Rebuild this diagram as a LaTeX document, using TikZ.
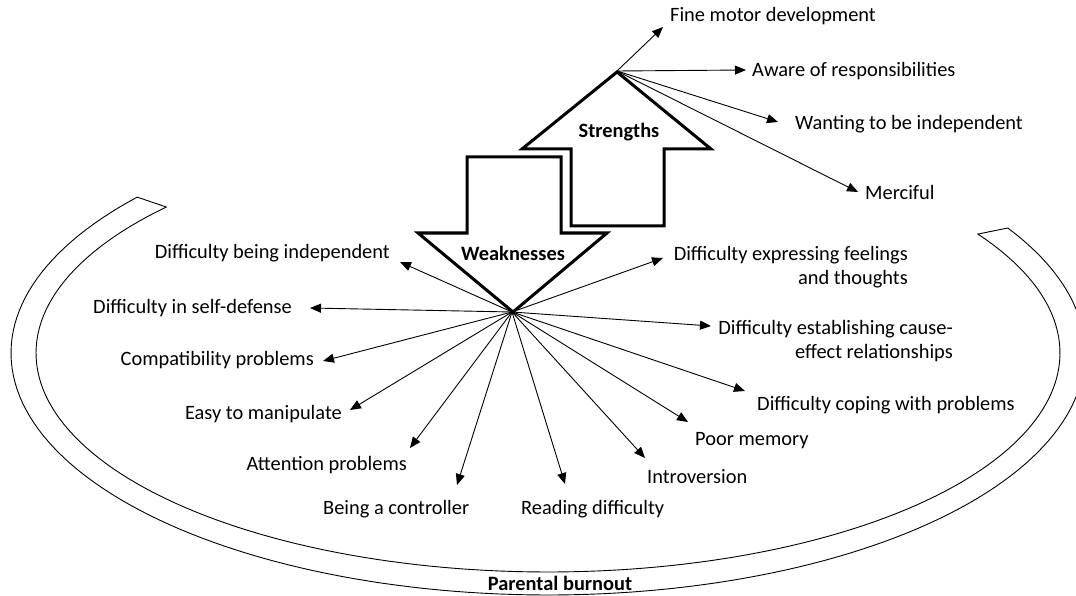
\documentclass[tikz,border=0pt]{standalone}
\usepackage{fontspec}
\setmainfont{Carlito}
\usetikzlibrary{arrows.meta}
\begin{document}
\begin{tikzpicture}[x=1pt,y=-1pt,
  lbl/.style={font=\fontsize{20.4}{24}\selectfont, inner sep=0pt, text height=13pt, text depth=0pt},
  lbltwo/.style={font=\fontsize{20.4}{24}\selectfont, inner sep=0pt, align=right},
  bold/.style={font=\fontsize{20.4}{24}\selectfont\bfseries, inner sep=0pt, text height=13pt, text depth=0pt},
  conn/.style={line width=0.9pt, -{Triangle[length=11pt,width=9pt]}},
  blockarrow/.style={line width=3pt, line join=miter, fill=white},
  band/.style={line width=0.9pt}]
\useasboundingbox (0,0) rectangle (1076,596);

% Parental burnout band
\draw[band] plot[domain=-31.1:220.1, samples=160] ({548+537*cos(\x)},{353+242*sin(\x)})
  -- plot[domain=221.8:-32.9, samples=160] ({548+512*cos(\x)},{353+219*sin(\x)}) -- cycle;
\node[bold] (pb) at (560,584) {Parental burnout};

% Block arrows
\draw[blockarrow] (467,157) -- (561,157) -- (561,233) -- (607,233) -- (513,312) -- (418,233) -- (467,233) -- cycle;
\draw[blockarrow] (617,72) -- (711,149) -- (664,149) -- (664,226) -- (571,226) -- (571,149) -- (522,149) -- cycle;
\node[bold] (str) at (619,131) {Strengths};
\node[bold] (weak) at (513,254) {Weaknesses};

\coordinate (st) at (617,71);
\coordinate (wt) at (512,312);

% Strengths
\node[lbl, anchor=west] (s1) at (670,15) {Fine motor development};
\node[lbl, anchor=west] (s2) at (752,70) {Aware of responsibilities};
\node[lbl, anchor=west] (s3) at (795,123) {Wanting to be independent};
\node[lbl, anchor=west] (s4) at (865,193) {Merciful};
\coordinate (se1) at (663,27);
\coordinate (se2) at (746,70);
\coordinate (se3) at (778,122);
\coordinate (se4) at (858,192);
\foreach \e in {se1,se2,se3,se4} \draw[conn] (st) -- (\e);

% Weaknesses
\node[lbl, anchor=east] (w1) at (390,252) {Difficulty being independent};
\node[lbl, anchor=east] (w2) at (292,307) {Difficulty in self-defense};
\node[lbl, anchor=east] (w3) at (314,359) {Compatibility problems};
\node[lbl, anchor=east] (w4) at (342,413) {Easy to manipulate};
\node[lbl, anchor=east] (w5) at (407,464) {Attention problems};
\node[lbl, anchor=west] (w6) at (323,508) {Being a controller};
\node[lbl, anchor=west] (w7) at (521,508) {Reading difficulty};
\node[lbl, anchor=west] (w8) at (647,477) {Introversion};
\node[lbl, anchor=west] (w9) at (695,439) {Poor memory};
\node[lbl, anchor=west] (w10) at (757,404) {Difficulty coping with problems};
\node[lbltwo, anchor=east] (w11) at (953,341) {Difficulty establishing cause-\\effect relationships};
\node[lbltwo, anchor=east] (w12) at (908,267) {Difficulty expressing feelings\\and thoughts};

\coordinate (we1) at (400,262);
\coordinate (we2) at (310,308);
\coordinate (we3) at (323,361);
\coordinate (we4) at (350,410);
\coordinate (we5) at (410,448);
\coordinate (we6) at (457,485);
\coordinate (we7) at (565,484);
\coordinate (we8) at (645,458);
\coordinate (we9) at (688,422);
\coordinate (we10) at (745,391);
\coordinate (we11) at (711,326);
\coordinate (we12) at (663,258);
\foreach \e in {we1,we2,we3,we4,we5,we6,we7,we8,we9,we10,we11,we12} \draw[conn] (wt) -- (\e);
\end{tikzpicture}
\end{document}
